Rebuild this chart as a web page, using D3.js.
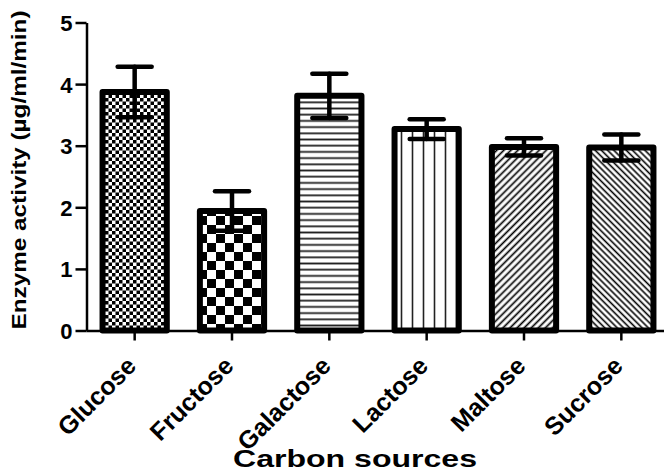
<!DOCTYPE html>
<html>
<head>
<meta charset="utf-8">
<script src="https://cdn.jsdelivr.net/npm/d3@7"></script>
<style>
  html, body { margin: 0; padding: 0; background: #fff; }
  svg { display: block; }
  text { font-family: "Liberation Sans", Arial, sans-serif; font-weight: bold; fill: #000; }
</style>
</head>
<body>
<svg id="chart" width="664" height="472"></svg>
<script>
// Enzyme activity by carbon source (mean ± error)
const categories = ["Glucose", "Fructose", "Galactose", "Lactose", "Maltose", "Sucrose"];
const activity   = [3.87, 1.94, 3.81, 3.27, 2.98, 2.97];
const errors     = [0.41, 0.32, 0.36, 0.16, 0.14, 0.21];
const yTicks     = [0, 1, 2, 3, 4, 5];
const fills      = ["fineChecker", "coarseChecker", "hLines", "vLines", "diagUp", "diagDown"];

const svg = d3.select("#chart");

const x = d3.scaleBand()
  .domain(categories)
  .range([86, 670])
  .paddingInner(0.34)
  .paddingOuter(0.17);

const y = d3.scaleLinear()
  .domain([0, 5])
  .range([330.5, 22.5]);

// ---- fill patterns ----
const defs = svg.append("defs");

function checker(id, cell) {
  const p = defs.append("pattern")
    .attr("id", id)
    .attr("patternUnits", "userSpaceOnUse")
    .attr("width", cell * 2).attr("height", cell * 2);
  p.append("rect").attr("width", cell * 2).attr("height", cell * 2).attr("fill", "#fff");
  p.append("rect").attr("width", cell).attr("height", cell).attr("fill", "#000");
  p.append("rect").attr("x", cell).attr("y", cell).attr("width", cell).attr("height", cell).attr("fill", "#000");
}
checker("fineChecker", 3.5);
checker("coarseChecker", 9);

function lines(id, gap, width, angle, color) {
  const p = defs.append("pattern")
    .attr("id", id)
    .attr("patternUnits", "userSpaceOnUse")
    .attr("width", gap).attr("height", gap)
    .attr("patternTransform", `rotate(${angle})`);
  p.append("rect").attr("width", gap).attr("height", gap).attr("fill", "#fff");
  p.append("line")
    .attr("x1", 0).attr("x2", gap)
    .attr("y1", gap / 2).attr("y2", gap / 2)
    .attr("stroke", color).attr("stroke-width", width);
}
lines("hLines", 6.2, 1.8, 0, "#222");
lines("vLines", 11, 1.6, 90, "#222");
lines("diagUp", 5, 1.7, -45, "#000");
lines("diagDown", 4.4, 1.6, 45, "#000");

// ---- bars ----
const data = categories.map((c, i) => ({ c, v: activity[i], e: errors[i], fill: fills[i] }));

svg.append("g").selectAll("rect")
  .data(data)
  .join("rect")
  .attr("x", d => x(d.c))
  .attr("y", d => y(d.v))
  .attr("width", x.bandwidth())
  .attr("height", d => y(0) - y(d.v))
  .attr("fill", d => `url(#${d.fill})`)
  .attr("stroke", "#000")
  .attr("stroke-width", 6)
  .attr("stroke-linejoin", "round");

// ---- error bars ----
const capHalf = 17;
const eb = svg.append("g")
  .attr("stroke", "#000")
  .attr("stroke-width", 4.5)
  .attr("stroke-linecap", "round");

eb.selectAll(".stem")
  .data(data)
  .join("line")
  .attr("class", "stem")
  .attr("x1", d => x(d.c) + x.bandwidth() / 2)
  .attr("x2", d => x(d.c) + x.bandwidth() / 2)
  .attr("y1", d => y(d.v + d.e))
  .attr("y2", d => y(d.v - d.e));

eb.selectAll(".capTop")
  .data(data)
  .join("line")
  .attr("class", "capTop")
  .attr("x1", d => x(d.c) + x.bandwidth() / 2 - capHalf)
  .attr("x2", d => x(d.c) + x.bandwidth() / 2 + capHalf)
  .attr("y1", d => y(d.v + d.e))
  .attr("y2", d => y(d.v + d.e));

eb.selectAll(".capBottom")
  .data(data)
  .join("line")
  .attr("class", "capBottom")
  .attr("x1", d => x(d.c) + x.bandwidth() / 2 - capHalf)
  .attr("x2", d => x(d.c) + x.bandwidth() / 2 + capHalf)
  .attr("y1", d => y(d.v - d.e))
  .attr("y2", d => y(d.v - d.e));

// ---- axes ----
const yAxis = svg.append("g")
  .attr("transform", "translate(86.5,0)")
  .call(d3.axisLeft(y).tickValues(yTicks).tickFormat(d3.format("d")).tickSize(11).tickSizeOuter(0).tickPadding(3));
yAxis.attr("font-size", null).attr("font-family", null);
yAxis.select(".domain").attr("stroke", "#000").attr("stroke-width", 2.5);
yAxis.selectAll(".tick line").attr("stroke", "#000").attr("stroke-width", 2.5);
yAxis.selectAll(".tick text").attr("font-size", 22).attr("dy", "0.36em");

const xAxis = svg.append("g")
  .attr("transform", "translate(0,330.5)")
  .call(d3.axisBottom(x).tickSize(10).tickSizeOuter(0));
xAxis.attr("font-size", null).attr("font-family", null);
xAxis.select(".domain").attr("stroke", "#000").attr("stroke-width", 2.5);
xAxis.selectAll(".tick line").attr("stroke", "#000").attr("stroke-width", 2.5);
xAxis.selectAll(".tick text")
  .attr("font-size", 25)
  .attr("text-anchor", "end")
  .attr("x", 0).attr("y", 0).attr("dy", 0)
  .attr("transform", "translate(3,37) rotate(-45)");

// ---- titles ----
svg.append("text")
  .attr("transform", "translate(26,170) rotate(-90)")
  .attr("text-anchor", "middle")
  .attr("font-size", 21)
  .attr("textLength", 319)
  .attr("lengthAdjust", "spacingAndGlyphs")
  .text("Enzyme activity (µg/ml/min)");

svg.append("text")
  .attr("x", 355)
  .attr("y", 467)
  .attr("text-anchor", "middle")
  .attr("font-size", 23)
  .attr("textLength", 244)
  .attr("lengthAdjust", "spacingAndGlyphs")
  .text("Carbon sources");
</script>
</body>
</html>
